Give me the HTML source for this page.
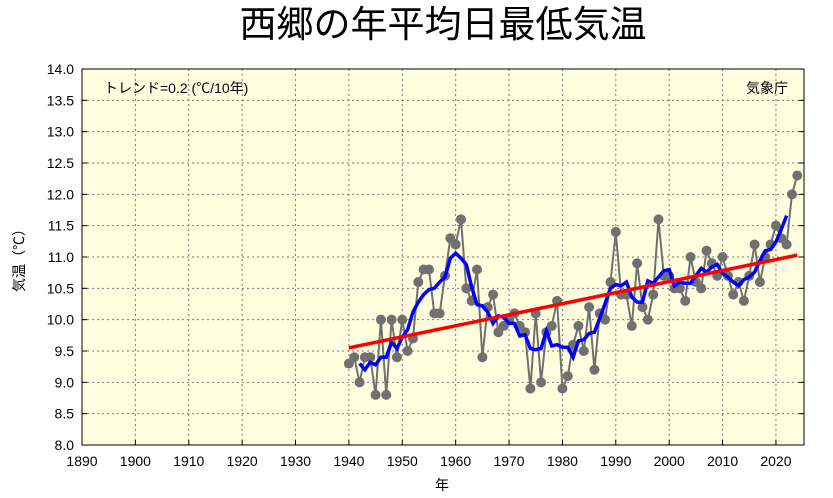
<!DOCTYPE html><html><head><meta charset="utf-8"><style>body{margin:0;background:#fff}svg{display:block;font-family:"Liberation Sans","Noto Sans CJK JP",sans-serif}</style></head><body>
<svg id="s" width="833" height="498" xmlns="http://www.w3.org/2000/svg">
<rect x="82" y="69" width="722" height="376" fill="#ffffe0"/>
<g id="grid" stroke="#777" stroke-dasharray="2,3" stroke-width="1"></g>
<rect x="82" y="69" width="722" height="376" fill="none" stroke="#000" stroke-width="1"/>
<g id="tk" font-size="14" fill="#000"></g>
<text x="443" y="37" font-size="37" text-anchor="middle">西郷の年平均日最低気温</text>
<text x="104" y="93" font-size="14">トレンド=0.2 (℃/10年)</text>
<text x="788" y="93" font-size="14" text-anchor="end">気象庁</text>
<text x="442" y="490" font-size="14" text-anchor="middle">年</text>
<text transform="translate(24,257) rotate(-90)" font-size="14" text-anchor="middle">気温（℃）</text>
<g id="d"></g>
</svg>
<script>
const X=y=>82+(y-1890)*5.338,Y=v=>445-(v-8)*62.67,ns="http://www.w3.org/2000/svg";
function el(p,t,a,txt){const e=document.createElementNS(ns,t);for(const k in a)e.setAttribute(k,a[k]);if(txt!=null)e.textContent=txt;document.getElementById(p).appendChild(e);return e}
for(let y=1890;y<=2020;y+=10){const x=X(y);if(y>1890)el('grid','line',{x1:x,x2:x,y1:69,y2:445});el('tk','line',{x1:x,x2:x,y1:445,y2:440,stroke:'#000'});el('tk','text',{x:x,y:466,'text-anchor':'middle'},y)}
for(let i=0;i<=12;i++){const v=8+i*0.5,y=Y(v);if(i>0&&i<12)el('grid','line',{x1:82,x2:804,y1:y,y2:y});el('tk','line',{x1:82,x2:87,y1:y,y2:y,stroke:'#000'});el('tk','line',{x1:799,x2:804,y1:y,y2:y,stroke:'#000'});el('tk','text',{x:74,y:y+5,'text-anchor':'end'},v.toFixed(1))}
const d=[9.3,9.4,9.0,9.4,9.4,8.8,10.0,8.8,10.0,9.4,10.0,9.5,9.7,10.6,10.8,10.8,10.1,10.1,10.7,11.3,11.2,11.6,10.5,10.3,10.8,9.4,10.2,10.4,9.8,9.9,10.0,10.1,9.9,9.8,8.9,10.1,9.0,9.8,9.9,10.3,8.9,9.1,9.6,9.9,9.5,10.2,9.2,10.1,10.0,10.6,11.4,10.4,10.4,9.9,10.9,10.2,10.0,10.4,11.6,10.7,10.7,10.5,10.5,10.3,11.0,10.6,10.5,11.1,10.9,10.7,11.0,10.7,10.4,10.6,10.3,10.7,11.2,10.6,11.0,11.2,11.5,11.3,11.2,12.0,12.3];
el('d','polyline',{points:d.map((v,i)=>X(1940+i)+','+Y(v)).join(' '),fill:'none',stroke:'#707070','stroke-width':2});
d.forEach((v,i)=>el('d','circle',{cx:X(1940+i),cy:Y(v),r:5,fill:'#707070'}));
let m=[];for(let i=2;i<d.length-2;i++){let s=0;for(let j=-2;j<=2;j++)s+=d[i+j];m.push(X(1940+i)+','+Y(s/5))}
el('d','polyline',{points:m.join(' '),fill:'none',stroke:'#0000ff','stroke-width':3.5});
el('d','line',{x1:X(1940),y1:Y(9.55),x2:X(2024),y2:Y(11.03),stroke:'#ff0000','stroke-width':3.5});
</script></body></html>
